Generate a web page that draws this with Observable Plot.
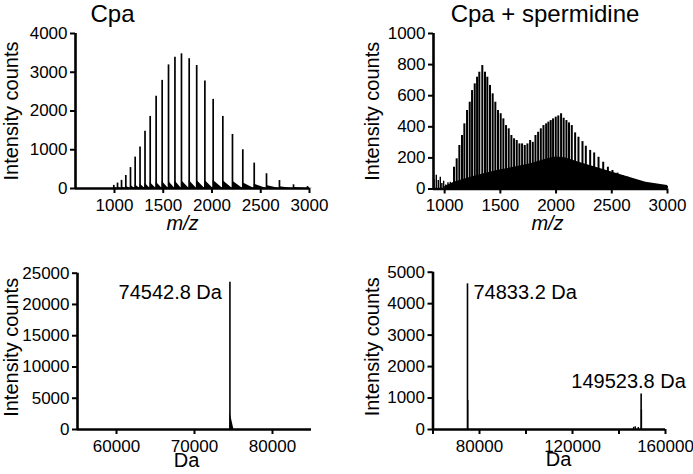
<!DOCTYPE html>
<html>
<head>
<meta charset="utf-8">
<script src="https://cdn.jsdelivr.net/npm/d3@7"></script>
<script src="https://cdn.jsdelivr.net/npm/@observablehq/plot@0.6"></script>
<style>
  body { margin: 0; background: #fff; }
  #chart { position: relative; width: 693px; height: 474px; overflow: hidden; background: #fff; }
  #chart svg { position: absolute; overflow: visible; }
</style>
</head>
<body>
<div id="chart"></div>
<script>
// ---------- Panel A: Cpa, raw spectrum (m/z) ----------
const cpaPeakMz = [993, 1031, 1072, 1116, 1164, 1212, 1262, 1313, 1366, 1427, 1489, 1554, 1620, 1687, 1766, 1843, 1927, 2012, 2111, 2210, 2316, 2433, 2559, 2692, 2836, 2980];
const cpaPeakIntensity = [80, 140, 210, 335, 540, 810, 1070, 1475, 1860, 2380, 2790, 3190, 3390, 3475, 3350, 3175, 2775, 2300, 1860, 1395, 1000, 655, 380, 205, 95, 50];
const cpaTailIntensity = [20, 30, 40, 55, 75, 95, 115, 135, 155, 170, 180, 190, 200, 205, 205, 210, 210, 210, 205, 195, 150, 110, 75, 45, 25, 12];
const cpaMzTicks = [1000, 1500, 2000, 2500, 3000];
const cpaYTicks = [0, 1000, 2000, 3000, 4000];

// ---------- Panel B: Cpa + spermidine, raw spectrum (m/z) ----------
const spdPeakMz = [1084, 1108, 1132, 1156, 1177, 1201, 1225, 1246, 1270, 1291, 1311, 1338, 1362, 1383, 1407, 1431, 1455, 1479, 1503, 1527, 1551, 1575, 1599, 1623, 1647, 1671, 1695, 1719, 1743, 1767, 1791, 1815, 1839, 1863, 1887, 1911, 1931, 1952, 1973, 1997, 2020, 2045, 2068, 2093, 2116, 2141, 2171, 2201, 2237, 2267, 2306, 2342, 2381, 2423, 2465, 2506, 2551, 2596, 2641, 2686, 2737, 2791, 2842, 2896, 2956, 2995];
const spdPeakIntensity = [140, 194, 280, 344, 419, 505, 558, 633, 676, 719, 751, 794, 751, 719, 666, 612, 558, 505, 484, 451, 408, 387, 344, 323, 312, 290, 290, 280, 290, 312, 300, 344, 365, 387, 408, 419, 430, 440, 451, 462, 470, 484, 455, 440, 425, 408, 361, 333, 305, 275, 248, 232, 204, 172, 140, 119, 102, 87, 76, 61, 50, 40, 33, 27, 22, 18];
const spdBandMz = [1000, 1084, 1160, 1235, 1353, 1473, 1623, 1773, 1922, 2000, 2090, 2205, 2357, 2506, 2656, 2806, 3000];
const spdBandIntensity = [15, 44, 60, 76, 98, 119, 140, 162, 194, 205, 200, 172, 140, 108, 76, 44, 22];
const spdNoiseMz = [905, 925, 943, 961, 975, 991, 1010, 1030, 1051, 1068];
const spdNoiseIntensity = [60, 88, 55, 75, 35, 50, 25, 40, 43, 30];
const spdMzTicks = [1000, 1500, 2000, 2500, 3000];
const spdYTicks = [0, 200, 400, 600, 800, 1000];

// ---------- Panel C: Cpa, deconvoluted (Da) ----------
const cpaDeconvMass = [74542.8];
const cpaDeconvIntensity = [23550];
const cpaDeconvLabel = ["74542.8 Da"];
const cpaShoulderMass = [74542.8, 75050];
const cpaShoulderIntensity = [2800, 0];
const cpaDaTicks = [60000, 70000, 80000];
const cpaDaYTicks = [0, 5000, 10000, 15000, 20000, 25000];

// ---------- Panel D: Cpa + spermidine, deconvoluted (Da) ----------
const spdDeconvMass = [74833.2, 149523.8];
const spdDeconvIntensity = [4630, 1130];
const spdDeconvLabel = ["74833.2 Da", "149523.8 Da"];
const spdMinorMass = [74950, 146300, 147000, 148300, 149650];
const spdMinorIntensity = [920, 70, 90, 60, 620];
const spdDaLabelTicks = [80000, 120000, 160000];
const spdDaMinorTicks = [60000, 100000, 140000];
const spdDaYTicks = [0, 1000, 2000, 3000, 4000, 5000];

// ---------- helpers ----------
const chart = document.getElementById("chart");
const fmt = d3.format("d");
const FONT = "'Liberation Sans', Arial, Helvetica, sans-serif";
const plotStyle = {fontFamily: FONT, fontSize: "17px", color: "black", background: "transparent", overflow: "visible"};

function panel(cfg) {
  const svg = Plot.plot({
    width: cfg.width, height: cfg.height,
    marginLeft: cfg.ml, marginRight: cfg.mr, marginTop: cfg.mt, marginBottom: cfg.mb,
    x: {domain: cfg.xDomain},
    y: {domain: cfg.yDomain},
    style: plotStyle,
    marks: cfg.marks
  });
  svg.style.position = "absolute";
  svg.style.left = cfg.left + "px";
  svg.style.top = cfg.top + "px";
  chart.appendChild(svg);
}

function axes(xDomain, xTicks, yTicks, extraXTicks) {
  const m = [
    Plot.axisY({ticks: yTicks, tickSize: 5, tickPadding: 3, tickFormat: fmt, strokeWidth: 2, label: null}),
    Plot.axisX({ticks: xTicks, tickSize: 5, tickPadding: 5, tickFormat: fmt, strokeWidth: 2, label: null})
  ];
  if (extraXTicks) m.push(Plot.axisX({ticks: extraXTicks, tickSize: 5, strokeWidth: 2, fill: "none", label: null}));
  m.push(Plot.ruleY([0], {strokeWidth: 2.6}));
  m.push(Plot.ruleX([xDomain[0]], {strokeWidth: 2.6}));
  return m;
}

function labels(o) {
  return [
    Plot.text([o.title].filter(Boolean), {frameAnchor: "top", textAnchor: "middle", dx: o.tdx, dy: -12, lineAnchor: "bottom", fontSize: 24, fill: "black"}),
    Plot.text(["Intensity counts"], {frameAnchor: "left", textAnchor: "middle", rotate: -90, dx: o.ydx, dy: o.ydy || 0, lineAnchor: "bottom", fontSize: 20, fill: "black"}),
    Plot.text([o.xlabel], {frameAnchor: "bottom", textAnchor: "middle", dx: o.xdx, dy: o.xdy, lineAnchor: "bottom", fontSize: 20, fill: "black", fontStyle: o.italic ? "italic" : "normal"})
  ];
}

// ---------- Panel A ----------
const cpaPeaks = cpaPeakMz.map((mz, i) => ({mz, intensity: cpaPeakIntensity[i], tail: cpaTailIntensity[i]}));
const cpaTails = [];
cpaPeaks.forEach((p, i) => {
  const end = i < cpaPeaks.length - 1 ? cpaPeaks[i + 1].mz : p.mz + 60;
  cpaTails.push({peak: i, mz: p.mz, y: p.tail});
  cpaTails.push({peak: i, mz: end, y: 0});
});
const xA = [600, 3000];
panel({
  left: 0, top: 0, width: 346, height: 230, ml: 75, mr: 37, mt: 33, mb: 42,
  xDomain: xA, yDomain: [0, 4000],
  marks: [
    Plot.areaY(cpaTails, {x: "mz", y: "y", z: "peak", fill: "black"}),
    Plot.ruleX(cpaPeaks, {x: "mz", y1: 0, y2: "intensity", strokeWidth: 1.7}),
    ...axes(xA, cpaMzTicks, cpaYTicks),
    ...labels({title: "Cpa", tdx: -80, ydx: -58, xlabel: "m/z", xdx: -10, xdy: 41, italic: true})
  ]
});

// ---------- Panel B ----------
const spdPeaks = spdPeakMz.map((mz, i) => ({mz, intensity: spdPeakIntensity[i]}));
const spdBand = spdBandMz.map((mz, i) => ({mz, intensity: spdBandIntensity[i]}));
const spdNoise = spdNoiseMz.map((mz, i) => ({mz, intensity: spdNoiseIntensity[i]}));
const xB = [900, 3000];
panel({
  left: 346, top: 0, width: 347, height: 230, ml: 87, mr: 26, mt: 33, mb: 41.5,
  xDomain: xB, yDomain: [0, 1000],
  marks: [
    Plot.areaY(spdBand, {x: "mz", y: "intensity", fill: "black"}),
    Plot.ruleX(spdNoise, {x: "mz", y1: 0, y2: "intensity", strokeWidth: 1.4}),
    Plot.ruleX(spdPeaks, {x: "mz", y1: 0, y2: "intensity", strokeWidth: 2}),
    ...axes(xB, spdMzTicks, spdYTicks),
    ...labels({title: "Cpa + spermidine", tdx: -5.5, ydx: -54.5, xlabel: "m/z", xdx: -3, xdy: 41, italic: true})
  ]
});

// ---------- Panel C ----------
const cpaDeconv = cpaDeconvMass.map((m, i) => ({mass: m, intensity: cpaDeconvIntensity[i], label: cpaDeconvLabel[i]}));
const cpaShoulder = cpaShoulderMass.map((m, i) => ({mass: m, intensity: cpaShoulderIntensity[i]}));
const xC = [55000, 85000];
panel({
  left: 0, top: 230, width: 346, height: 244, ml: 77, mr: 35, mt: 42.7, mb: 45,
  xDomain: xC, yDomain: [0, 25000],
  marks: [
    Plot.areaY(cpaShoulder, {x: "mass", y: "intensity", fill: "black"}),
    Plot.ruleX(cpaDeconv, {x: "mass", y1: 0, y2: "intensity", strokeWidth: 1.6}),
    Plot.text(cpaDeconv, {x: "mass", y: "intensity", text: "label", textAnchor: "end", lineAnchor: "bottom", dx: -8, dy: 16.6, fontSize: 20, fill: "black"}),
    ...axes(xC, cpaDaTicks, cpaDaYTicks),
    ...labels({title: null, tdx: 0, ydx: -60, ydy: -4, xlabel: "Da", xdx: -8, xdy: 37})
  ]
});

// ---------- Panel D ----------
const spdDeconv = spdDeconvMass.map((m, i) => ({mass: m, intensity: spdDeconvIntensity[i], label: spdDeconvLabel[i]}));
const spdMinor = spdMinorMass.map((m, i) => ({mass: m, intensity: spdMinorIntensity[i]}));
const xD = [60000, 160000];
panel({
  left: 346, top: 230, width: 347, height: 244, ml: 86.5, mr: 28, mt: 41.7, mb: 45,
  xDomain: xD, yDomain: [0, 5000],
  marks: [
    Plot.ruleX(spdMinor, {x: "mass", y1: 0, y2: "intensity", strokeWidth: 1.4}),
    Plot.ruleX(spdDeconv, {x: "mass", y1: 0, y2: "intensity", strokeWidth: 1.6}),
    Plot.text([spdDeconv[0]], {x: "mass", y: "intensity", text: "label", textAnchor: "start", lineAnchor: "bottom", dx: 6, dy: 15, fontSize: 20, fill: "black"}),
    Plot.text([spdDeconv[1]], {x: "mass", y: "intensity", text: "label", textAnchor: "middle", lineAnchor: "bottom", dx: -12.6, dy: -6, fontSize: 20, fill: "black"}),
    ...axes(xD, spdDaLabelTicks, spdDaYTicks, spdDaMinorTicks),
    ...labels({title: null, tdx: 0, ydx: -54, ydy: -4, xlabel: "Da", xdx: 9.25, xdy: 36})
  ]
});
</script>
</body>
</html>
